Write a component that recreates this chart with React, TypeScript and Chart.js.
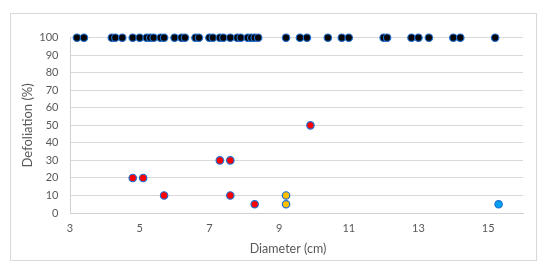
import React, { useEffect, useRef } from "react";
import { Chart, registerables } from "chart.js";

Chart.register(...registerables);

// Trees with 100 % defoliation (diameter, cm)
const fullX = [3.2, 3.4, 4.2, 4.3, 4.5, 4.8, 5.0, 5.2, 5.3, 5.4, 5.6, 5.7, 6.0, 6.2, 6.3, 6.6, 6.7, 7.0, 7.1, 7.3, 7.4, 7.6, 7.8, 7.9, 8.1, 8.2, 8.3, 8.4, 9.2, 9.6, 9.8, 10.4, 10.8, 11.0, 12.0, 12.1, 12.8, 13.0, 13.3, 14.0, 14.2, 15.2];
const fullY = fullX.map(() => 100);

// Partially defoliated (red)
const redX = [4.8, 5.1, 5.7, 7.3, 7.6, 7.6, 8.3, 9.9];
const redY = [20, 20, 10, 30, 30, 10, 5, 50];

// Yellow
const yellowX = [9.2, 9.2];
const yellowY = [10, 5];

// Light blue
const cyanX = [15.3];
const cyanY = [5];

const yTicks = [0, 10, 20, 30, 40, 50, 60, 70, 80, 90, 100];
const xTicks = [3, 5, 7, 9, 11, 13, 15];
const xTitle = "Diameter (cm)";
const yTitle = "Defoliation (%)";

const toPts = (xs: number[], ys: number[]) => xs.map((x, i) => ({ x, y: ys[i] }));

export default function App() {
  const ref = useRef<HTMLCanvasElement | null>(null);
  useEffect(() => {
    if (!ref.current) return;
    const textColor = "#595959";
    const font = "Lato, 'Open Sans', sans-serif";
    const mk = (data: any, fill: string) => ({
      data,
      backgroundColor: fill,
      borderColor: "#1f6fd1",
      borderWidth: 1.2,
      pointRadius: 3.7,
      pointHoverRadius: 3.7,
      showLine: false,
      clip: false,
    });
    const xTitlePlugin = {
      id: "xTitle",
      afterDraw(c: any) {
        const ctx = c.ctx;
        ctx.save();
        ctx.font = `12.5px ${font}`;
        ctx.fillStyle = textColor;
        ctx.textAlign = "center";
        ctx.textBaseline = "middle";
        ctx.fillText(xTitle, c.chartArea.left + 218, 249);
        ctx.restore();
      },
    };
    const chart = new Chart(ref.current, {
      type: "scatter",
      data: {
        datasets: [
          mk(toPts(fullX, fullY), "#050505"),
          mk(toPts(redX, redY), "#ff0000"),
          mk(toPts(yellowX, yellowY), "#ffc000"),
          mk(toPts(cyanX, cyanY), "#00a2f0"),
        ],
      },
      plugins: [xTitlePlugin],
      options: {
        responsive: false,
        animation: false,
        events: [],
        layout: { padding: { left: 12, right: 27, top: 37.7, bottom: 10 } },
        plugins: { legend: { display: false }, tooltip: { enabled: false } },
        scales: {
          x: {
            type: "linear",
            min: 3,
            max: 16,
            afterBuildTicks: (s: any) => {
              s.ticks = xTicks.map((v) => ({ value: v }));
            },
            afterFit: (s: any) => {
              s.height = 48;
            },
            grid: { display: false, drawTicks: false },
            border: { display: true, color: "#d0d0d0", width: 1 },
            ticks: { color: textColor, font: { family: font, size: 11 }, padding: 9 },
            title: { display: false },
          },
          y: {
            type: "linear",
            min: 0,
            max: 100,
            afterBuildTicks: (s: any) => {
              s.ticks = yTicks.map((v) => ({ value: v }));
            },
            afterFit: (s: any) => {
              s.width = 58;
            },
            grid: { color: "#d9d9d9", drawTicks: false, lineWidth: 1 },
            border: { display: true, color: "#d0d0d0", width: 1 },
            ticks: { color: textColor, font: { family: font, size: 11 }, padding: 11.5 },
            title: {
              display: true,
              text: yTitle,
              color: textColor,
              font: { family: font, size: 13 },
              padding: { top: 7.8, bottom: 0 },
            },
          },
        },
      },
    });
    return () => chart.destroy();
  }, []);
  return (
    <div>
      <div
        style={{
          position: "absolute",
          left: 10,
          top: 13,
          width: 527,
          height: 248,
          border: "1px solid #d9d9d9",
          boxSizing: "border-box",
        }}
      />
      <canvas
        ref={ref}
        width={550}
        height={271}
        style={{ position: "absolute", left: 0, top: 0, width: 550, height: 271 }}
      />
    </div>
  );
}
